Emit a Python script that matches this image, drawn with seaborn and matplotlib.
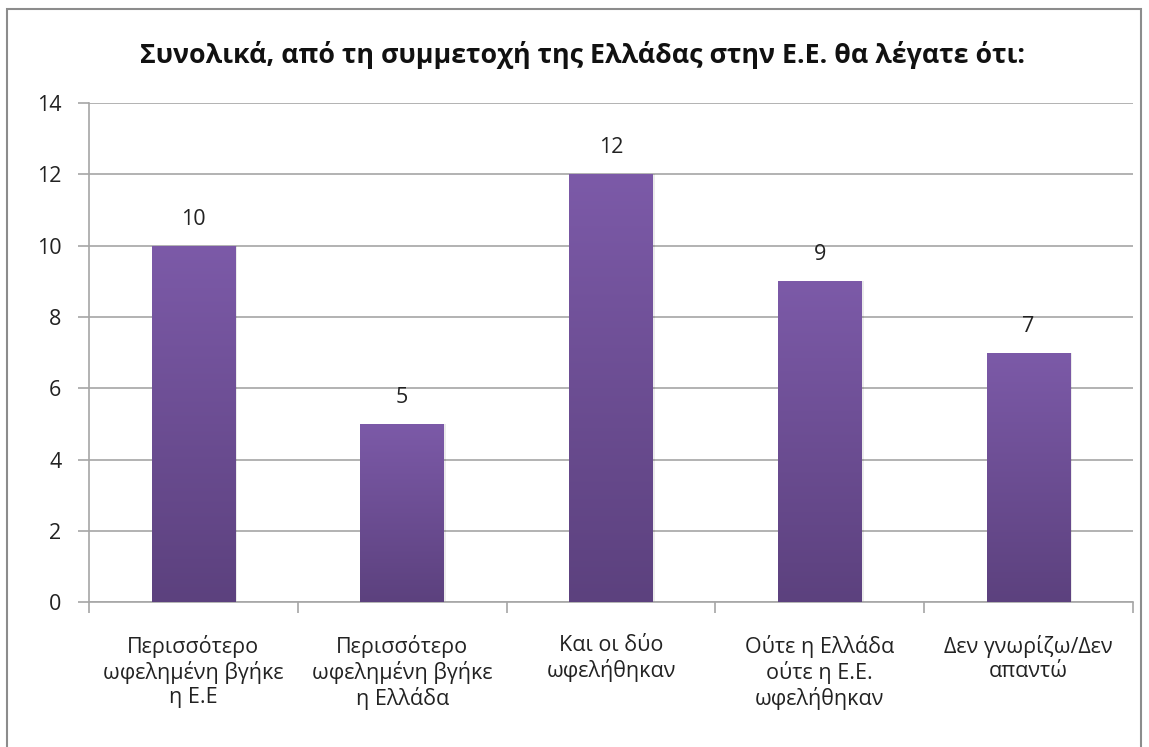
import numpy as np
import pandas as pd
import matplotlib
matplotlib.use("Agg")
import matplotlib.pyplot as plt
import seaborn as sns
from matplotlib.colors import LinearSegmentedColormap
from matplotlib.patches import Rectangle

# data
categories = [
    "Περισσότερο\nωφελημένη βγήκε\nη Ε.Ε",
    "Περισσότερο\nωφελημένη βγήκε\nη Ελλάδα",
    "Και οι δύο\nωφελήθηκαν",
    "Ούτε η Ελλάδα\nούτε η Ε.Ε.\nωφελήθηκαν",
    "Δεν γνωρίζω/Δεν\nαπαντώ",
]
values = [10, 5, 12, 9, 7]
title = "Συνολικά, από τη συμμετοχή της Ελλάδας στην Ε.Ε. θα λέγατε ότι:"

sns.set_theme(style="white")
plt.rcParams["font.family"] = ["Open Sans", "DejaVu Sans"]

df = pd.DataFrame({"cat": categories, "val": values})

fig = plt.figure(figsize=(11.49, 7.47), dpi=100)
ax = fig.add_axes([0.0775, 0.194, 0.9085, 0.668])

sns.barplot(data=df, x="cat", y="val", color="#6c4e94", width=0.4, ax=ax,
            saturation=1)

ax.set_ylim(0, 14)
ax.set_xlim(-0.5, len(categories) - 0.5)
ax.set_yticks(range(0, 15, 2))
ax.yaxis.grid(True, color="#a6a6a6", linewidth=1.2)
ax.set_axisbelow(True)
for s in ["top", "right"]:
    ax.spines[s].set_visible(False)
for s in ["left", "bottom"]:
    ax.spines[s].set_color("#a6a6a6")
    ax.spines[s].set_linewidth(1.2)
ax.set_xlabel("")
ax.set_ylabel("")

# gradient fill on bars
cmap = LinearSegmentedColormap.from_list("p", ["#5c417e", "#7c5aa8"])
grad = np.linspace(0, 1, 256).reshape(-1, 1)
for bar in ax.patches:
    x0, w, h = bar.get_x(), bar.get_width(), bar.get_height()
    # soft shadow
    ax.add_patch(Rectangle((x0 + 0.01, 0), w, h, color="#000000", alpha=0.08,
                           zorder=2, linewidth=0))
    bar.set_facecolor("none")
    bar.set_edgecolor("none")
    im = ax.imshow(grad, cmap=cmap, aspect="auto", origin="lower",
                   extent=(x0, x0 + w, 0, h), zorder=3)
    im.set_clip_path(bar)
    bar.set_zorder(3)

for i, v in enumerate(values):
    ax.text(i, v + 0.45, str(v), ha="center", va="bottom", fontsize=15.5,
            color="#222222")

ax.set_xticks(range(len(categories)))
ax.set_xticklabels(categories, fontsize=15.5, linespacing=1.15, color="#222222")
ax.tick_params(axis="x", length=0, pad=24)
ax.tick_params(axis="y", labelsize=15.5, labelcolor="#222222", length=8,
               color="#a6a6a6", width=1.2, direction="out", left=True, pad=12)
# category separator ticks
ax.set_xticks(np.arange(-0.5, len(categories), 1), minor=True)
ax.tick_params(axis="x", which="minor", length=8, color="#a6a6a6", width=1.2,
               direction="out", bottom=True)

fig.text(0.507, 0.926, title, ha="center", va="center", fontsize=19.3,
         fontweight="bold", color="#111111")

# chart area border
fig.add_artist(Rectangle((7 / 1149, -0.01), 1134 / 1149, 1 - 9 / 747 + 0.01,
                         transform=fig.transFigure, fill=False,
                         edgecolor="#8c8c8c", linewidth=1.5))

fig.savefig("out.png", dpi=100)
